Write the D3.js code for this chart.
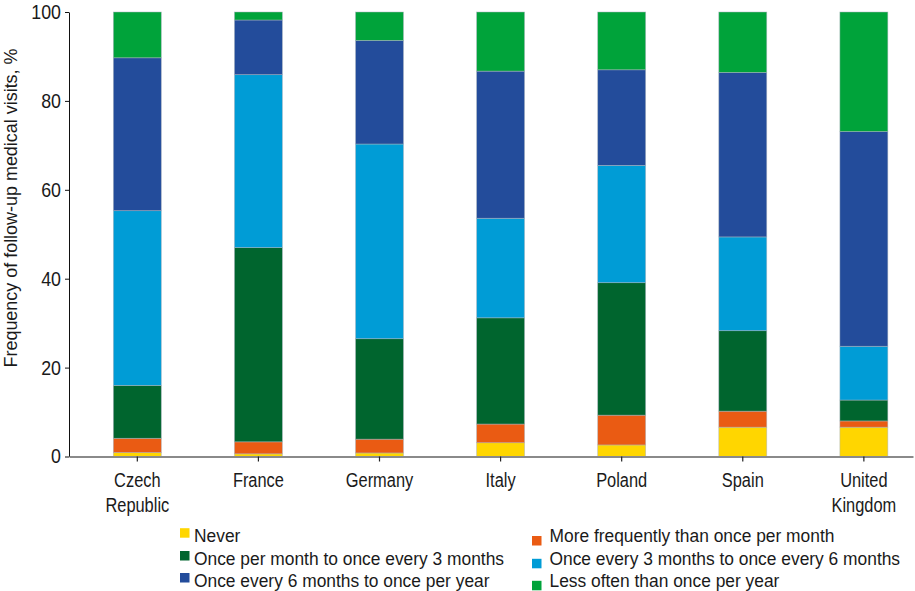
<!DOCTYPE html>
<html><head><meta charset="utf-8">
<script src="https://cdn.jsdelivr.net/npm/d3@7"></script>
<style>
body{margin:0;background:#fff;}
svg{display:block;}
text{font-family:"Liberation Sans",Arial,sans-serif;fill:#1a1a1a;}
</style></head>
<body>
<svg id="chart" width="915" height="591"></svg>
<script>
const categories = [["Czech","Republic"],["France"],["Germany"],["Italy"],["Poland"],["Spain"],["United","Kingdom"]];
const seriesNames = ["Never","More frequently than once per month","Once per month to once every 3 months","Once every 3 months to once every 6 months","Once every 6 months to once per year","Less often than once per year"];
const seriesColors = ["#ffd600","#ea5b13","#00652e","#009cd6","#234c9b","#00a33a"];
const never      = [0.9, 0.6, 0.8, 3.1, 2.6, 6.6, 6.6];
const moreFreq   = [3.2, 2.7, 3.1, 4.2, 6.7, 3.6, 1.4];
const monthTo3   = [11.9, 43.7, 22.6, 23.9, 29.8, 18.1, 4.7];
const m3To6      = [39.3, 38.9, 43.8, 22.4, 26.4, 21.1, 12.1];
const m6ToYear   = [34.4, 12.3, 23.3, 33.1, 21.5, 37.0, 48.3];
const lessYear   = [10.3, 1.8, 6.4, 13.3, 13.0, 13.6, 26.9];
const yTicks = [0, 20, 40, 60, 80, 100];
const yTitle = "Frequency of follow-up medical visits, %";

const seriesValues = [never, moreFreq, monthTo3, m3To6, m6ToYear, lessYear];
const keys = categories.map(c => c.join(" "));
const table = keys.map((k, i) => {
  const row = {cat: k};
  seriesNames.forEach((s, j) => row[s] = seriesValues[j][i]);
  return row;
});
const stacked = d3.stack().keys(seriesNames)(table);

function narrow(factor) {
  return sel => sel.each(function() {
    const len = this.getComputedTextLength();
    if (len > 0) d3.select(this).attr("textLength", len * factor).attr("lengthAdjust", "spacingAndGlyphs");
  });
}

const svg = d3.select("#chart");
const x0 = 69, x1 = 913;
const x = d3.scaleBand().domain(keys).range([x0, x1]).paddingInner(0.604).paddingOuter(0.287).align(0.638);
const y = d3.scaleLinear().domain([0, 100]).range([456.5, 12]);

// bars
svg.append("g").selectAll("g").data(stacked).join("g")
  .attr("fill", (d, i) => seriesColors[i])
  .selectAll("rect").data(d => d).join("rect")
  .attr("x", d => x(d.data.cat))
  .attr("width", x.bandwidth())
  .attr("y", d => y(d[1]))
  .attr("height", d => y(d[0]) - y(d[1]))
  .attr("stroke", "rgba(170,180,190,0.7)")
  .attr("stroke-width", 0.7);

// y axis
const yAxis = svg.append("g").attr("transform", `translate(${x0},0)`)
  .call(d3.axisLeft(y).tickValues(yTicks).tickSize(4).tickPadding(4).tickSizeOuter(0));
yAxis.attr("font-family", null).attr("font-size", null);
yAxis.select(".domain").attr("stroke", "#111").attr("stroke-width", 1);
yAxis.selectAll(".tick line").attr("stroke", "#111");
yAxis.selectAll("text").attr("font-size", 20).attr("fill", "#1a1a1a").call(narrow(0.89));

// x axis
const xAxis = svg.append("g").attr("transform", `translate(0,${y(0)})`)
  .call(d3.axisBottom(x).tickSize(5).tickSizeOuter(0).tickFormat(""));
xAxis.attr("font-family", null).attr("font-size", null);
xAxis.select(".domain").attr("stroke", "#8a8a8a").attr("stroke-width", 2);
xAxis.selectAll(".tick line").attr("stroke", "#222").attr("stroke-width", 1.2);
xAxis.selectAll(".tick").each(function(d, i) {
  const g = d3.select(this);
  categories[i].forEach((line, k) => {
    g.append("text").attr("text-anchor", "middle").attr("font-size", 20).attr("fill", "#1a1a1a")
      .attr("x", 0).attr("y", 30 + k * 25).text(line).call(narrow(0.82));
  });
});

// y title
svg.append("text")
  .attr("transform", `translate(17,208) rotate(-90)`)
  .attr("text-anchor", "middle")
  .attr("font-size", 18)
  .text(yTitle)
  .attr("textLength", 319).attr("lengthAdjust", "spacingAndGlyphs");

// legend
const legendItems = seriesNames.map((name, i) => ({name, color: seriesColors[i], col: i % 2, row: Math.floor(i / 2)}));
const colX = [180, 532];
const rowY = [541.7, 564.5, 586.5];
const leg = svg.append("g").selectAll("g").data(legendItems).join("g");
leg.append("rect")
  .attr("x", d => colX[d.col])
  .attr("y", d => rowY[d.row] - (d.col === 0 ? 13.5 : 5.7))
  .attr("width", 9.5).attr("height", 9.5)
  .attr("fill", d => d.color);
leg.append("text")
  .attr("transform", d => `translate(${colX[d.col] + (d.col === 0 ? 14 : 17.5)},${rowY[d.row]}) scale(0.94,1)`)
  .attr("font-size", 18.5)
  .text(d => d.name);
</script>
</body></html>
